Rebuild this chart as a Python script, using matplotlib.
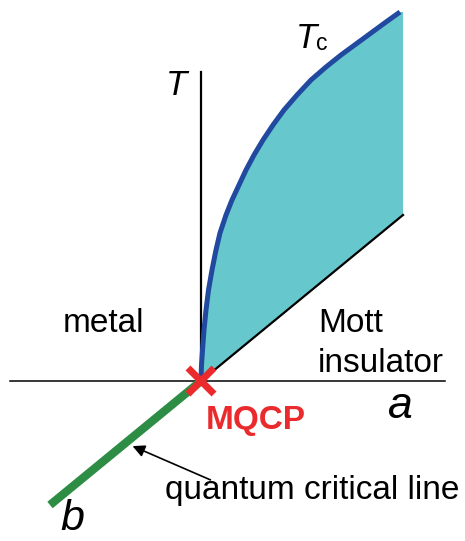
import matplotlib
matplotlib.use('Agg')
from matplotlib import pyplot as plt

plt.rcParams['font.family'] = ['Liberation Sans', 'DejaVu Sans']

W, H = 465, 541

# Tc curve (pixel coords, y down)
tc_x = [201, 201.5, 202.5, 204, 206, 208.5, 212, 216, 220, 226, 232, 239, 246, 254,
        263, 273, 284, 297, 311, 326, 341, 356, 371, 386, 400]
tc_y = [381, 365, 350, 330, 310, 290, 270, 250, 233, 215, 200, 185, 170, 155,
        140, 125, 110, 95, 80, 67, 55, 44, 33, 22, 12]

origin = (201, 381)
a_end = (403, 215)      # end of the a-direction line
b_end = (50, 505)       # end of the quantum critical line
t_top = 72              # top of the T axis
h_axis = (10, 445)      # extent of the horizontal line

FILL = '#66c8cc'
BLUE = '#2149a0'
GREEN = '#2e8d45'
RED = '#ea2a2c'

fig = plt.figure(figsize=(W / 100, H / 100), dpi=100)
ax = fig.add_axes([0, 0, 1, 1])
ax.set_xlim(0, W)
ax.set_ylim(H, 0)
ax.axis('off')

# shaded region
ax.fill(tc_x + [a_end[0], a_end[0]], tc_y + [tc_y[-1], a_end[1]], color=FILL, lw=0, zorder=1)

# axes lines
ax.plot(h_axis, [origin[1], origin[1]], color='black', lw=1.1, zorder=2)
ax.plot([origin[0], origin[0]], [origin[1], t_top], color='black', lw=1.6, zorder=2)
ax.plot([origin[0], a_end[0]], [origin[1], a_end[1]], color='black', lw=1.6, zorder=2)

# Tc line
ax.plot(tc_x, tc_y, color=BLUE, lw=3.6, solid_capstyle='butt', solid_joinstyle='round', zorder=3)

# quantum critical line
ax.plot([origin[0], b_end[0]], [origin[1], b_end[1]], color=GREEN, lw=6, solid_capstyle='butt', zorder=3)

# MQCP cross
d = 13
ax.plot([origin[0] - d, origin[0] + d], [origin[1] - d, origin[1] + d], color=RED, lw=5, solid_capstyle='butt', zorder=4)
ax.plot([origin[0] - d, origin[0] + d], [origin[1] + d, origin[1] - d], color=RED, lw=5, solid_capstyle='butt', zorder=4)

# labels
ax.text(166, 95, 'T', fontsize=25, style='italic', ha='left', va='baseline')
ax.text(296, 48, 'T', fontsize=25, style='italic', ha='left', va='baseline')
ax.text(316, 50, 'c', fontsize=16.5, ha='left', va='baseline')
ax.text(63, 332, 'metal', fontsize=24, ha='left', va='baseline')
ax.text(318, 332, 'Mott', fontsize=24, ha='left', va='baseline')
ax.text(318, 372, 'insulator', fontsize=24, ha='left', va='baseline')
ax.text(388, 418, 'a', fontsize=32, style='italic', ha='left', va='baseline')
ax.text(60, 539, 'b', fontsize=31, style='italic', ha='left', va='bottom')
ax.text(206, 429, 'MQCP', fontsize=24, fontweight='bold', color=RED, ha='left', va='baseline')
ax.text(165, 499, 'quantum critical line', fontsize=24, ha='left', va='baseline')

ax.annotate('', xy=(130, 445), xytext=(213, 481),
            arrowprops=dict(arrowstyle='-|>', color='black', lw=1.2, mutation_scale=18))

fig.savefig('out.png', dpi=100)
